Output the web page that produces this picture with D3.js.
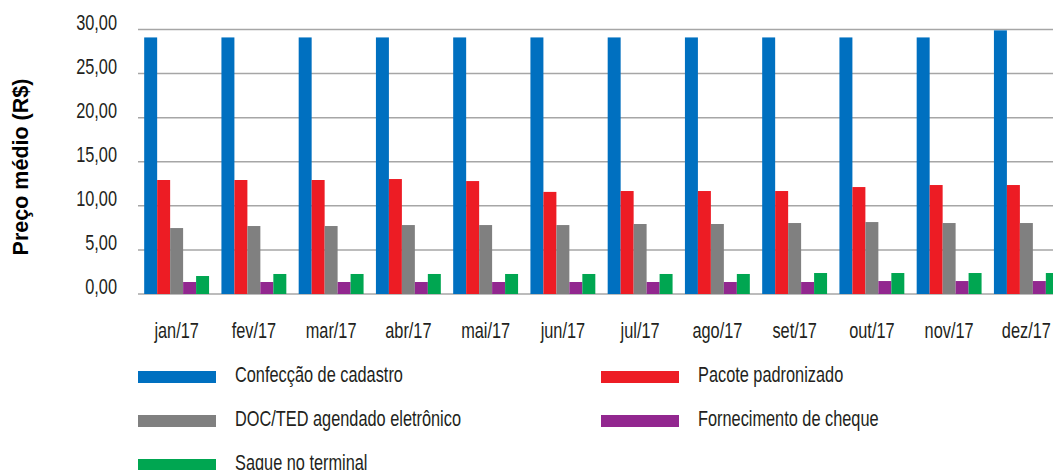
<!DOCTYPE html>
<html>
<head>
<meta charset="utf-8">
<script src="https://cdn.jsdelivr.net/npm/d3@7"></script>
<style>
  html, body { margin: 0; padding: 0; background: #fff; overflow: hidden; }
  svg { display: block; }
  .lbl { font-family: "Liberation Sans", Arial, sans-serif; font-size: 21.5px; fill: #231f20; }
</style>
</head>
<body>
<svg id="chart" width="1053" height="470"></svg>
<script>
// ---- data ----
const months = ["jan/17", "fev/17", "mar/17", "abr/17", "mai/17", "jun/17",
                "jul/17", "ago/17", "set/17", "out/17", "nov/17", "dez/17"];
const seriesNames = ["Confecção de cadastro", "Pacote padronizado",
                     "DOC/TED agendado eletrônico", "Fornecimento de cheque", "Saque no terminal"];
const cadastro = [29.1, 29.1, 29.1, 29.1, 29.1, 29.1, 29.1, 29.1, 29.1, 29.1, 29.1, 29.9];
const pacote   = [12.93, 12.93, 12.93, 13.04, 12.81, 11.58, 11.68, 11.68, 11.68, 12.13, 12.36, 12.36];
const docTed   = [7.48, 7.71, 7.71, 7.82, 7.82, 7.82, 7.94, 7.94, 8.05, 8.16, 8.05, 8.05];
const cheque   = [1.36, 1.36, 1.36, 1.36, 1.36, 1.36, 1.36, 1.36, 1.36, 1.47, 1.47, 1.47];
const saque    = [2.04, 2.27, 2.27, 2.27, 2.27, 2.27, 2.27, 2.27, 2.38, 2.38, 2.38, 2.38];
const yTicks = [0, 5, 10, 15, 20, 25, 30];

const allSeries = [cadastro, pacote, docTed, cheque, saque];
const colors = ["#0070c0", "#ed1c24", "#808080", "#92278f", "#00a651"];

const svg = d3.select("#chart");
const narrow = 0.76; // condensed look: squeeze Liberation Sans horizontally

// scales
const x0 = d3.scaleBand()
    .domain(months)
    .range([138, 1065])
    .paddingInner(0.16)
    .paddingOuter(0.08);

const x1 = d3.scaleBand()
    .domain(seriesNames)
    .range([0, x0.bandwidth()])
    .padding(0);

const y = d3.scaleLinear()
    .domain([0, 30])
    .range([294, 29.5]);

const color = d3.scaleOrdinal().domain(seriesNames).range(colors);

const fmt = v => d3.format(".2f")(v).replace(".", ",");

// gridlines
svg.append("g")
    .selectAll("line")
    .data(yTicks)
    .join("line")
    .attr("x1", 138)
    .attr("x2", 1065)
    .attr("y1", d => y(d))
    .attr("y2", d => y(d))
    .attr("stroke", "#a6a6a6")
    .attr("stroke-width", 1.5);

// y tick labels
svg.append("g")
    .selectAll("text")
    .data(yTicks)
    .join("text")
    .attr("class", "lbl")
    .attr("transform", d => `translate(117,${y(d)}) scale(${narrow},1)`)
    .attr("text-anchor", "end")
    .text(d => fmt(d));

// bars
const rows = months.map((m, i) => ({ month: m, values: allSeries.map(s => s[i]) }));

svg.append("g")
    .selectAll("g")
    .data(rows)
    .join("g")
    .attr("transform", d => `translate(${x0(d.month)},0)`)
    .selectAll("rect")
    .data(d => seriesNames.map((name, k) => ({ name, value: d.values[k] })))
    .join("rect")
    .attr("x", d => x1(d.name))
    .attr("y", d => y(d.value))
    .attr("width", x1.bandwidth())
    .attr("height", d => y(0) - y(d.value))
    .attr("fill", d => color(d.name));

// x labels
svg.append("g")
    .selectAll("text")
    .data(months)
    .join("text")
    .attr("class", "lbl")
    .attr("transform", d => `translate(${x0(d) + x0.bandwidth() / 2},338) scale(${narrow},1)`)
    .attr("text-anchor", "middle")
    .text(d => d);

// y axis title
svg.append("text")
    .attr("transform", "translate(28,167) rotate(-90)")
    .attr("text-anchor", "middle")
    .style("font-family", "'Liberation Sans', Arial, sans-serif")
    .style("font-weight", "bold")
    .style("font-size", "21.5px")
    .style("fill", "#000")
    .text("Preço médio (R$)");

// legend
const legend = svg.append("g");
seriesNames.forEach((name, i) => {
    const col = i % 2, row = Math.floor(i / 2);
    const g = legend.append("g")
        .attr("transform", `translate(${138 + col * 463},${371 + row * 44})`);
    g.append("rect")
        .attr("width", 78)
        .attr("height", 12)
        .attr("fill", color(name));
    g.append("text")
        .attr("class", "lbl")
        .attr("transform", `translate(97,11) scale(${narrow},1)`)
        .text(name);
});
</script>
</body>
</html>
